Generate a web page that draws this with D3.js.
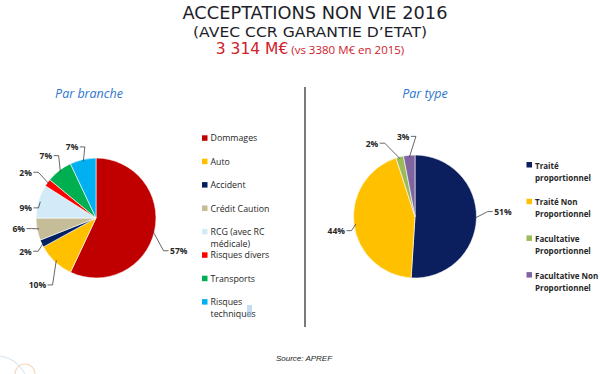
<!DOCTYPE html>
<html>
<head>
<meta charset="utf-8">
<script src="https://cdn.jsdelivr.net/npm/d3@7/dist/d3.min.js"></script>
<style>
  html, body { margin: 0; padding: 0; background: #fff; }
  svg { display: block; }
</style>
</head>
<body>
<svg id="chart" width="600" height="374"></svg>
<script>
// data
const branchCategories = ["Dommages", "Auto", "Accident", "Crédit Caution", "RCG (avec RC médicale)", "Risques divers", "Transports", "Risques techniques"];
const branchValues = [57, 10, 2, 6, 9, 2, 7, 7];
const branchLegendLines = [["Dommages"], ["Auto"], ["Accident"], ["Crédit Caution"], ["RCG (avec RC", "médicale)"], ["Risques divers"], ["Transports"], ["Risques", "techniques"]];

const typeCategories = ["Traité proportionnel", "Traité Non Proportionnel", "Facultative Proportionnel", "Facultative Non Proportionnel"];
const typeValues = [51, 44, 2, 3];
const typeLegendLines = [["Traité", "proportionnel"], ["Traité Non", "Proportionnel"], ["Facultative", "Proportionnel"], ["Facultative Non", "Proportionnel"]];

const titleLines = ["ACCEPTATIONS NON VIE 2016", "(AVEC CCR GARANTIE D\u2019ETAT)"];
const totalLabel = "3 314 M€";
const totalNote = " (vs 3380 M€ en 2015)";

// styling / layout (not data)
const branchColors = ["#c00000", "#ffc000", "#002060", "#c4bd97", "#d3ebf9", "#ff0000", "#00b050", "#00b0f0"];
const typeColors = ["#0b1f5e", "#ffc000", "#9bbb59", "#8064a2"];
// label nudges: [angle offset in degrees, distance from centre]
const branchLabelNudge = [[9, 89], [-2, 89], [0, 78], [3, 78], [-8, 71], [-3, 84], [-1, 80], [-6, 75]];
const typeLabelNudge = [[-5, 88], [-3, 80], [-16, 85], [-3, 81]];

const svg = d3.select("#chart");

// titles
const title = svg.append("g").attr("font-family", "'DejaVu Sans', sans-serif").attr("text-anchor", "middle");
title.append("text").attr("x", 315).attr("y", 19).attr("font-size", 17.5).attr("fill", "#1e1e2a")
  .attr("textLength", 265).attr("lengthAdjust", "spacingAndGlyphs").text(titleLines[0]);
title.append("text").attr("x", 310).attr("y", 37).attr("font-size", 14).attr("fill", "#1e1e2a")
  .attr("textLength", 234).attr("lengthAdjust", "spacingAndGlyphs").text(titleLines[1]);
const sub = title.append("text").attr("x", 310).attr("y", 54).attr("fill", "#d0202a");
sub.append("tspan").attr("font-size", 15.5).text(totalLabel);
sub.append("tspan").attr("font-size", 11.5).attr("font-family", "'Open Sans', sans-serif").text(totalNote);

// section headers
svg.append("text").attr("x", 89).attr("y", 98).attr("text-anchor", "middle")
  .attr("font-family", "'Open Sans', sans-serif").attr("font-style", "italic")
  .attr("font-size", 12.5).attr("fill", "#2e75d0").text("Par branche");
svg.append("text").attr("x", 425).attr("y", 98).attr("text-anchor", "middle")
  .attr("font-family", "'Open Sans', sans-serif").attr("font-style", "italic")
  .attr("font-size", 12.5).attr("fill", "#2e75d0").text("Par type");

// divider
svg.append("line").attr("x1", 305).attr("x2", 305).attr("y1", 87).attr("y2", 327)
  .attr("stroke", "#7a7a7a").attr("stroke-width", 2);

function drawPie(opts) {
  const { cx, cy, r, values, colors, nudge } = opts;
  const g = svg.append("g").attr("transform", `translate(${cx},${cy})`);
  const pie = d3.pie().sort(null).value(d => d);
  const arcs = pie(values);
  const arc = d3.arc().innerRadius(0).outerRadius(r);

  g.selectAll("path.slice")
    .data(arcs)
    .join("path")
    .attr("class", "slice")
    .attr("d", arc)
    .attr("fill", (d, i) => colors[i])
    .attr("stroke", "#fff")
    .attr("stroke-width", 0.6);

  const polar = (rad, a) => [rad * Math.sin(a), -rad * Math.cos(a)];

  arcs.forEach((d, i) => {
    const mid = (d.startAngle + d.endAngle) / 2;
    const la = mid + nudge[i][0] * Math.PI / 180;
    const [lx, ly] = polar(nudge[i][1], la);
    const side = lx >= 0 ? 1 : -1;
    const txt = g.append("text")
      .attr("x", lx).attr("y", ly)
      .attr("text-anchor", "middle")
      .attr("dominant-baseline", "central")
      .attr("font-family", "'Open Sans', sans-serif")
      .attr("font-weight", "bold")
      .attr("font-size", 8.5)
      .attr("fill", "#262626")
      .text(Math.round(d.data) + "%");
    const w = txt.node().getComputedTextLength();
    const ax = lx - side * (w / 2 + 1.5);
    const bx = ax - side * 5;
    const e = polar(r - 2, mid);
    g.insert("polyline", "text")
      .attr("points", [[ax, ly], [bx, ly], e].map(p => p.join(",")).join(" "))
      .attr("fill", "none")
      .attr("stroke", "#404040")
      .attr("stroke-width", 0.8);
  });
}

drawPie({ cx: 96, cy: 218, r: 60, values: branchValues, colors: branchColors, nudge: branchLabelNudge });
drawPie({ cx: 415, cy: 216.5, r: 61.5, values: typeValues, colors: typeColors, nudge: typeLabelNudge });

// legends
function drawLegend(opts) {
  const { x, y0, step, lines, colors, bold, size } = opts;
  const yScale = d3.scaleLinear().domain([0, 1]).range([y0, y0 + step]);
  const g = svg.append("g").attr("font-family", "'Open Sans', sans-serif")
    .attr("font-size", size).attr("font-weight", bold ? "bold" : "normal").attr("fill", "#262626");
  lines.forEach((ls, i) => {
    const y = yScale(i);
    g.append("rect").attr("x", x).attr("y", y - 3).attr("width", 5.5).attr("height", 5.5).attr("fill", colors[i]);
    ls.forEach((t, j) => {
      g.append("text").attr("x", x + 8.5).attr("y", y + j * 12)
        .attr("dominant-baseline", "central").text(t);
    });
  });
}

drawLegend({ x: 202, y0: 138.3, step: 23.4, lines: branchLegendLines, colors: branchColors, bold: false, size: 8.8 });
drawLegend({ x: 526.5, y0: 165, step: 36.7, lines: typeLegendLines, colors: typeColors, bold: true, size: 8 });

// cursor artefact on "techniques"
svg.append("rect").attr("x", 247).attr("y", 305).attr("width", 5).attr("height", 12).attr("fill", "#9cc3e8").attr("opacity", 0.6);

// source
svg.append("text").attr("x", 304).attr("y", 361).attr("text-anchor", "middle")
  .attr("font-family", "'Liberation Sans', Arial, sans-serif").attr("font-style", "italic")
  .attr("font-size", 8).attr("fill", "#222").text("Source: APREF");

// faint decorative circles bottom-left
svg.append("circle").attr("cx", -4).attr("cy", 388).attr("r", 32).attr("fill", "none").attr("stroke", "#dbe8f3").attr("stroke-width", 1.2);
svg.append("circle").attr("cx", 25).attr("cy", 374).attr("r", 10).attr("fill", "none").attr("stroke", "#f6d9bd").attr("stroke-width", 1.2);
</script>
</body>
</html>
